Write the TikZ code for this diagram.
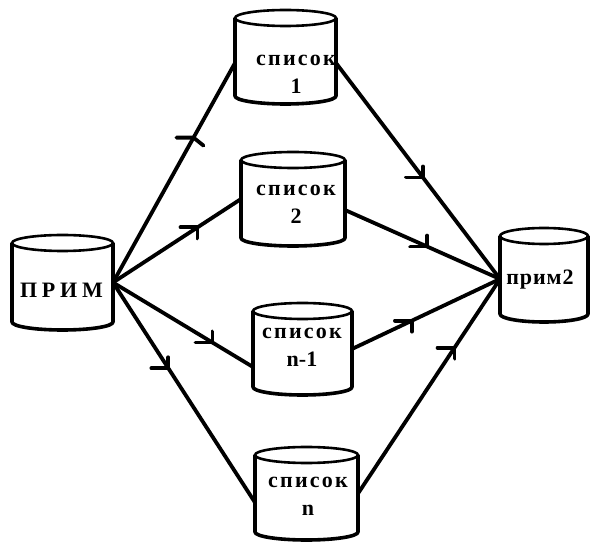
\documentclass[tikz,border=0pt]{standalone}
\usepackage{fontspec}
\setmainfont{Liberation Serif}
\usetikzlibrary{calc}
\tikzset{
  cylbox/.style={rectangle, inner sep=0pt, outer sep=0pt},
  cylside/.style={line width=3.6pt, line join=round},
  cyltop/.style={line width=2.6pt},
  conn/.style={line width=3.8pt, line cap=round},
  lbl/.style={align=center, inner sep=0pt, font=\bfseries\fontsize{22}{28}\selectfont},
}
\newcommand\mycyl[5]{%
  \node[cylbox, minimum width=#4pt, minimum height=#5pt] (#1) at (#2,#3) {};
  \draw[cylside] ([yshift=-8pt]#1.north west) -- ([yshift=8pt]#1.south west)
     arc[start angle=180, end angle=360, x radius=#4/2, y radius=8]
     -- ([yshift=-8pt]#1.north east);
  \draw[cyltop] ([yshift=-8pt]#1.north) ellipse[x radius=#4/2, y radius=8];
}
\newcommand\fmark[3]{\draw[conn] (#1) ++(-17,0) -- (#1) -- ++(#2,#3);}
\begin{document}
\begin{tikzpicture}[x=1pt,y=1pt]
\useasboundingbox (0,0) rectangle (590,544);
\mycyl{P}{62.5}{261.5}{101}{95}
\mycyl{s1}{285.5}{487}{101}{94}
\mycyl{s2}{293}{345}{104}{94}
\mycyl{n1}{302.5}{195}{99}{92}
\mycyl{n}{306.5}{50.5}{103}{93}
\mycyl{P2}{544}{269}{88}{94}
% labels
\node[lbl] at (61.5,254) {\addfontfeatures{LetterSpace=22}ПРИМ};
\node[lbl] at (296,470) {\addfontfeatures{LetterSpace=10}список\\1};
\node[lbl] at (296,340) {\addfontfeatures{LetterSpace=10}список\\2};
\node[lbl] at (302,196.5) {\addfontfeatures{LetterSpace=10}список\\n-1};
\node[lbl] at (308,47.5) {\addfontfeatures{LetterSpace=10}список\\n};
\node[lbl] at (540,264) {\addfontfeatures{LetterSpace=4}прим2};
% connectors
\draw[conn] (P.east) -- ([yshift=-6pt]s1.west) coordinate[pos=0.66] (m1);
\draw[conn] (P.east) -- (s2.west) coordinate[pos=0.66] (m2);
\draw[conn] (P.east) -- ([yshift=-18pt]n1.west) coordinate[pos=0.71] (m3);
\draw[conn] (P.east) -- ([yshift=-9pt]n.west) coordinate[pos=0.39] (m4);
\draw[conn] ([yshift=-6pt]s1.east) -- ([yshift=-4pt]P2.west) coordinate[pos=0.53] (m5);
\draw[conn] ([yshift=-11pt]s2.east) -- ([yshift=-4pt]P2.west) coordinate[pos=0.53] (m6);
\draw[conn] (n1.east) -- ([yshift=-4pt]P2.west) coordinate[pos=0.405] (m7);
\draw[conn] (n.east) -- ([yshift=-4pt]P2.west) coordinate[pos=0.68] (m8);
% direction marks
\fmark{m1}{10}{-8}
\fmark{m2}{0}{-11}
\fmark{m3}{0}{11}
\fmark{m4}{0}{11}
\fmark{m5}{0}{11}
\fmark{m6}{0}{11}
\fmark{m7}{0}{-11}
\fmark{m8}{0}{-11}
\end{tikzpicture}
\end{document}
